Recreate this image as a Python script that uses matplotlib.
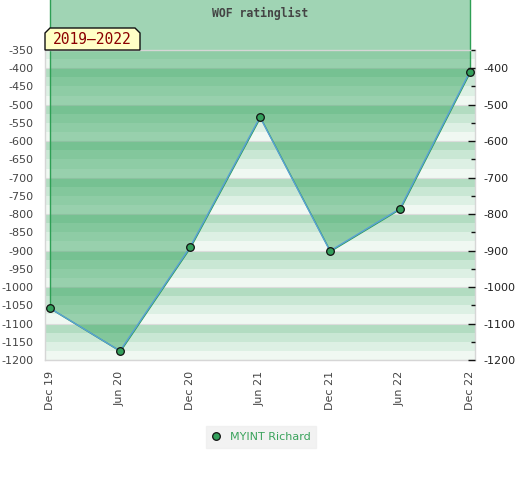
import matplotlib
matplotlib.use("Agg")
import matplotlib.pyplot as plt
from matplotlib.patches import Polygon, Rectangle
from matplotlib.ticker import MultipleLocator
import numpy as np

# ---- data ----
periods = ["Dec 19", "Jun 20", "Dec 20", "Jun 21", "Dec 21", "Jun 22", "Dec 22"]
ratings = [-1058, -1175, -891, -534, -901, -785, -409]
player = "MYINT Richard"
title = "WOF ratinglist"
span_label = "2019–2022"
left_ticks = list(range(-350, -1201, -50))
right_ticks = list(range(-400, -1201, -100))

W, H = 520, 480
fig = plt.figure(figsize=(W / 100, H / 100), dpi=100)
ax_l, ax_r, ax_b, ax_t = 45, 475, 360, 50
ax = fig.add_axes([ax_l / W, 1 - ax_b / H, (ax_r - ax_l) / W, (ax_b - ax_t) / H])

x = np.arange(len(periods))
pad = 5 / 70
ax.set_xlim(-pad, len(periods) - 1 + pad)
ymin, ymax = -1200, -350
ax.set_ylim(ymin, ymax)

# background stripes (4 shades per 100 units)
shades = ["#b2dcc1", "#c9e7d4", "#ddf0e4", "#f0f8f2"]
for top in range(-300, -1201, -100):
    for i, c in enumerate(shades):
        hi = top - 25 * i
        lo = hi - 25
        if hi <= ymin or lo >= ymax:
            continue
        ax.axhspan(max(lo, ymin), min(hi, ymax), color=c, lw=0, zorder=0)
for g in range(-400, -1201, -100):
    ax.axhline(g, color="#dcdcdc", lw=0.8, zorder=0.5)

# fill from line up to figure top
top_val = ax.transData.inverted().transform(fig.transFigure.transform((0, 1)))[1] + 5
ax.fill_between(x, ratings, top_val, facecolor=(0.18, 0.63, 0.35, 0.45),
                edgecolor="#2e9f55", lw=1.0, clip_on=False, zorder=1)

ax.plot(x, ratings, color="#5a9fd6", lw=1.0, zorder=3)
ax.plot(x, ratings, ls="none", marker="o", ms=5.5, mfc="#34a05c", mec="#111111",
        mew=0.9, zorder=4, clip_on=False, label=player)

for s in ax.spines.values():
    s.set_color("#d6d6d6")
    s.set_linewidth(1.0)

ax.set_yticks(left_ticks)
ax.set_yticklabels([str(v) for v in left_ticks])
ax.tick_params(axis="y", length=0, pad=8, labelsize=8, labelcolor="#444444")
ax.set_xticks(x)
ax.set_xticklabels(periods, rotation=90, fontsize=8, color="#444444")
ax.tick_params(axis="x", length=0, pad=8)

ax2 = ax.twinx()
ax2.set_ylim(ymin, ymax)
ax2.set_yticks(right_ticks)
ax2.set_yticklabels([str(v) for v in right_ticks])
ax2.yaxis.set_minor_locator(MultipleLocator(50))
ax2.tick_params(axis="y", which="major", direction="in", length=5, width=1,
                color="#111111", pad=6, labelsize=8, labelcolor="#222222")
ax2.tick_params(axis="y", which="minor", direction="in", length=3, width=1,
                color="#111111")
for s in ax2.spines.values():
    s.set_visible(False)

# title
fig.text(260 / W, 1 - 13 / H, title, ha="center", va="center",
         family="DejaVu Sans Mono", fontweight="bold", fontsize=8.3, color="#444444")

# period label box with bevelled top corners
px = [(45, 50), (45, 33), (50, 28), (135, 28), (140, 33), (140, 50)]
poly = Polygon([(a / W, 1 - b / H) for a, b in px], closed=True,
               transform=fig.transFigure, facecolor="#ffffc6", edgecolor="#111111",
               lw=1.0, zorder=10)
fig.patches.append(poly)
fig.text(92.5 / W, 1 - 40 / H, span_label, ha="center", va="center",
         family="DejaVu Sans Mono", fontsize=10.5, color="#8b0000", zorder=11)

# legend
leg = fig.legend(loc="center", bbox_to_anchor=(261 / W, 1 - 437 / H), fontsize=8,
                 frameon=True, fancybox=False, handlelength=0.8, handletextpad=0.8,
                 borderpad=0.5, labelcolor="#3aa35c")
leg.get_frame().set_facecolor("#efefef")
leg.get_frame().set_edgecolor("#efefef")

fig.savefig("out.png", dpi=100)
